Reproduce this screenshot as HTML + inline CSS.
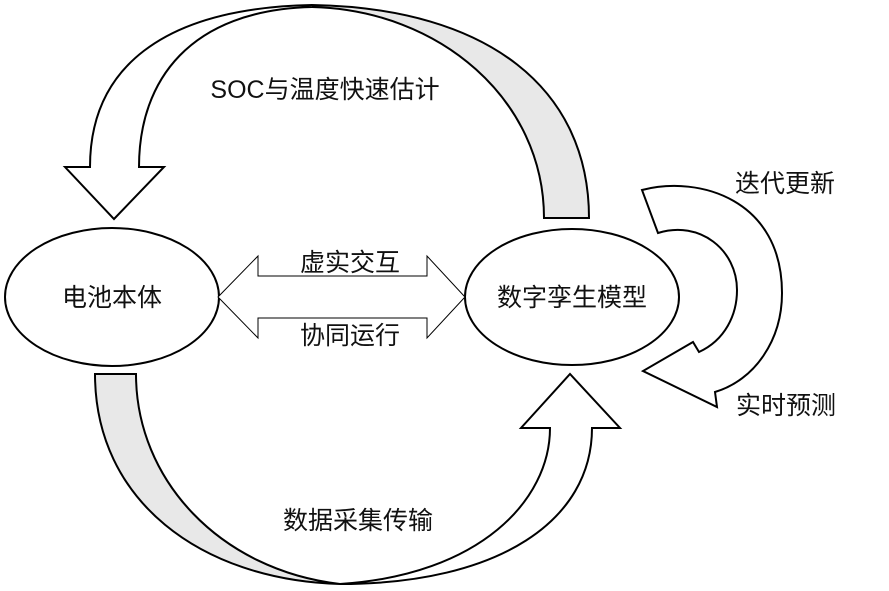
<!DOCTYPE html>
<html><head><meta charset="utf-8"><style>
html,body{margin:0;padding:0;background:#fff;}
svg{display:block;}
text{font-family:"Liberation Sans","Noto Sans CJK SC",sans-serif;fill:#111;}
</style></head><body>
<svg width="889" height="591" viewBox="0 0 889 591" xmlns="http://www.w3.org/2000/svg">
<g fill="none" stroke="#000" stroke-width="2">
<!-- top arrow -->
<path d="M312,5 C490,8 589,90 589,218 L544,218 C544,100 440,10 312,7 Z" fill="#e8e8e8"/>
<path d="M312,5 C160,8 90,70 90,167 L65,167 L114,219 L164,167 L139,167 C139,80 190,10 312,7" fill="#fff"/>
<!-- bottom arrow -->
<path d="M95,374 L136,374 C136,480 220,570 340,584 C200,580 95,500 95,374 Z" fill="#e8e8e8"/>
<path d="M340,584 C480,575 550,500 550,428 L521,428 L570,374 L620,428 L592,428 C592,520 500,584 340,584" fill="#fff"/>
<!-- ellipses -->
<ellipse cx="112" cy="297" rx="107" ry="69" fill="#fff"/>
<ellipse cx="572" cy="297" rx="107" ry="68" fill="#fff"/>
<!-- right cycle arrow -->
<path d="M642,190 C700,175 782,200 782,293 C782,340 755,380 715,392 L717,407 L643,371 L693,342 L699,352 C725,340 737,315 737,290 C737,250 700,220 658,233 Z" fill="#fff"/>
</g>
<!-- double arrow -->
<path d="M218,297 L258,256 L258,276 L427,276 L427,256 L465,297 L427,338 L427,318 L258,318 L258,338 Z" fill="#fff" stroke="#000" stroke-width="1"/>
<g font-size="25">
<text x="325" y="98" text-anchor="middle">SOC与温度快速估计</text>
<text x="112" y="306" text-anchor="middle">电池本体</text>
<text x="572" y="306" text-anchor="middle">数字孪生模型</text>
<text x="350" y="271" text-anchor="middle">虚实交互</text>
<text x="350" y="344" text-anchor="middle">协同运行</text>
<text x="358" y="529" text-anchor="middle">数据采集传输</text>
<text x="785" y="192" text-anchor="middle">迭代更新</text>
<text x="786" y="414" text-anchor="middle">实时预测</text>
</g>
</svg>
</body></html>
